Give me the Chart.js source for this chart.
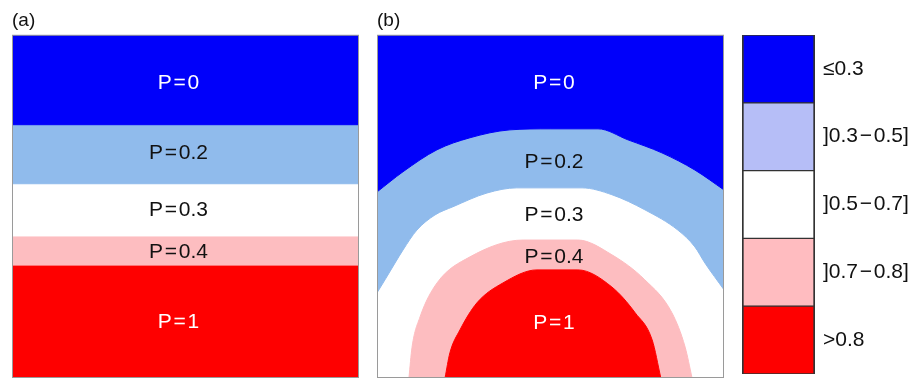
<!DOCTYPE html>
<html lang="en">
<head>
  <meta charset="UTF-8">
  <title>P zones</title>
  <script src="https://cdn.jsdelivr.net/npm/chart.js@4.4.1/dist/chart.umd.min.js"></script>
  <style>
    body {
      margin: 0;
      background: #ffffff;
      font-family: 'Liberation Sans', Arial, sans-serif;
    }

    .box {
      position: absolute;
    }

    #boxA { left: 12px;  top: 0;    width: 347px; height: 378px; }
    #boxB { left: 377px; top: 0;    width: 347px; height: 378px; }
    #boxL { left: 742px; top: 35px; width: 175px; height: 339px; }
  </style>
</head>
<body>
  <div class="box" id="boxA"><canvas id="chartA"></canvas></div>
  <div class="box" id="boxB"><canvas id="chartB"></canvas></div>
  <div class="box" id="boxL"><canvas id="chartL"></canvas></div>

  <script>
    // x = across the panel (0..1), y = depth from the top of the panel (0..1)

    // panel (a): flat limits between the zones
    const limitsA = [0.262, 0.434, 0.589, 0.674];

    // panel (b): curved limits
    const lineB0x = [0, 0.075, 0.173, 0.268, 0.383, 0.499, 0.637, 0.723, 0.821, 0.916, 1];
    const lineB0y = [0.458, 0.399, 0.335, 0.300, 0.277, 0.274, 0.274, 0.306, 0.344, 0.394, 0.452];

    const lineB1x = [0, 0.023, 0.052, 0.075, 0.115, 0.167, 0.219, 0.317, 0.403, 0.591, 0.677, 0.772, 0.867, 0.916, 0.945, 1];
    const lineB1y = [0.752, 0.714, 0.665, 0.627, 0.569, 0.525, 0.501, 0.461, 0.446, 0.446, 0.466, 0.510, 0.569, 0.618, 0.665, 0.743];

    const lineB2x = [0.092, 0.101, 0.124, 0.173, 0.268, 0.421, 0.579, 0.677, 0.772, 0.850, 0.888, 0.908];
    const lineB2y = [1, 0.910, 0.822, 0.723, 0.647, 0.598, 0.598, 0.641, 0.714, 0.810, 0.910, 1];

    const lineB3x = [0.196, 0.210, 0.239, 0.288, 0.363, 0.461, 0.579, 0.677, 0.744, 0.793, 0.818];
    const lineB3y = [1, 0.927, 0.860, 0.781, 0.723, 0.685, 0.685, 0.735, 0.810, 0.889, 1];

    // zone labels
    const zoneNames = ['P\u200A=\u200A0', 'P\u200A=\u200A0.2', 'P\u200A=\u200A0.3', 'P\u200A=\u200A0.4', 'P\u200A=\u200A1'];
    const zoneTextColors = ['#ffffff', '#111111', '#111111', '#111111', '#ffffff'];
    const zoneLabelXA = 0.48;
    const zoneLabelYA = [0.14, 0.344, 0.51, 0.633, 0.837];
    const zoneLabelXB = 0.51;
    const zoneLabelYB = [0.14, 0.37, 0.525, 0.647, 0.84];

    // legend classes
    const classLabels = ['\u22640.3', ']0.3\u200A\u2212\u200A0.5]', ']0.5\u200A\u2212\u200A0.7]', ']0.7\u200A\u2212\u200A0.8]', '>0.8'];
    const classColors = ['#0000fa', '#b6bef7', '#ffffff', '#ffbcc0', '#fe0000'];

    const FONT = "'Liberation Sans', Arial, sans-serif";
    const BLUE = '#0000fa';
    const LIGHTBLUE = '#90bbec';
    const PINK = '#fdbdc0';
    const RED = '#fe0000';

    function toPoints(xs, ys) {
      return xs.map((x, i) => ({ x: x, y: ys[i] }));
    }

    // texts "P = .." and the thin frame of the panel
    const zoneText = {
      id: 'zoneText',
      afterDatasetsDraw(chart, args, opts) {
        const { ctx, chartArea, scales } = chart;
        ctx.save();
        ctx.font = '21px ' + FONT;
        ctx.textAlign = 'center';
        ctx.textBaseline = 'middle';
        opts.names.forEach((t, i) => {
          ctx.fillStyle = opts.colors[i];
          ctx.fillText(t, scales.x.getPixelForValue(opts.x), scales.y.getPixelForValue(opts.ys[i]));
        });
        ctx.strokeStyle = '#9a9a9a';
        ctx.lineWidth = 1;
        ctx.strokeRect(chartArea.left + 0.5, chartArea.top + 0.5,
          chartArea.right - chartArea.left - 1, chartArea.bottom - chartArea.top - 1);
        ctx.restore();
      }
    };

    function zone(points, color, toDepth, order) {
      return {
        data: points,
        showLine: true,
        cubicInterpolationMode: 'monotone',
        pointRadius: 0,
        borderWidth: 1,
        borderColor: color,
        backgroundColor: color,
        fill: { value: toDepth },
        order: order
      };
    }

    function makePanel(id, title, lines, labelX, labelYs) {
      return new Chart(document.getElementById(id), {
        type: 'scatter',
        data: {
          datasets: [
            zone(lines[0], BLUE, 0, 0),
            zone(lines[1], LIGHTBLUE, 0, 1),
            zone(lines[2], PINK, 1, 1),
            zone(lines[3], RED, 1, 0)
          ]
        },
        options: {
          responsive: true,
          maintainAspectRatio: false,
          animation: false,
          events: [],
          layout: { padding: 0 },
          plugins: {
            legend: { display: false },
            tooltip: { enabled: false },
            title: {
              display: true,
              text: title,
              align: 'start',
              color: '#111111',
              font: { size: 19, family: FONT, weight: 'normal' },
              padding: { top: 9, bottom: 3 }
            },
            zoneText: { names: zoneNames, colors: zoneTextColors, x: labelX, ys: labelYs }
          },
          scales: {
            x: { type: 'linear', min: 0, max: 1, display: false },
            y: { type: 'linear', min: 0, max: 1, reverse: true, display: false }
          }
        },
        plugins: [zoneText]
      });
    }

    makePanel('chartA', '(a)',
      limitsA.map(d => toPoints([0, 1], [d, d])),
      zoneLabelXA, zoneLabelYA);

    makePanel('chartB', '(b)',
      [toPoints(lineB0x, lineB0y), toPoints(lineB1x, lineB1y),
       toPoints(lineB2x, lineB2y), toPoints(lineB3x, lineB3y)],
      zoneLabelXB, zoneLabelYB);

    // colour key
    new Chart(document.getElementById('chartL'), {
      type: 'bar',
      data: {
        labels: classLabels,
        datasets: [{
          data: classLabels.map(() => 1),
          backgroundColor: classColors,
          borderColor: '#333333',
          borderWidth: { left: 2, right: 2, top: 1, bottom: 1 },
          borderSkipped: false,
          barPercentage: 1,
          categoryPercentage: 1
        }]
      },
      options: {
        indexAxis: 'y',
        responsive: true,
        maintainAspectRatio: false,
        animation: false,
        events: [],
        layout: { padding: 0 },
        plugins: {
          legend: { display: false },
          tooltip: { enabled: false }
        },
        scales: {
          x: { min: 0, max: 1, display: false },
          y: {
            position: 'right',
            grid: { display: false, drawTicks: false },
            border: { display: false },
            ticks: { color: '#111111', padding: 8, font: { size: 21, family: FONT } },
            afterFit(scale) {
              scale.width = 102;
              scale.paddingTop = 0;
              scale.paddingBottom = 0;
            }
          }
        }
      }
    });
  </script>
</body>
</html>
